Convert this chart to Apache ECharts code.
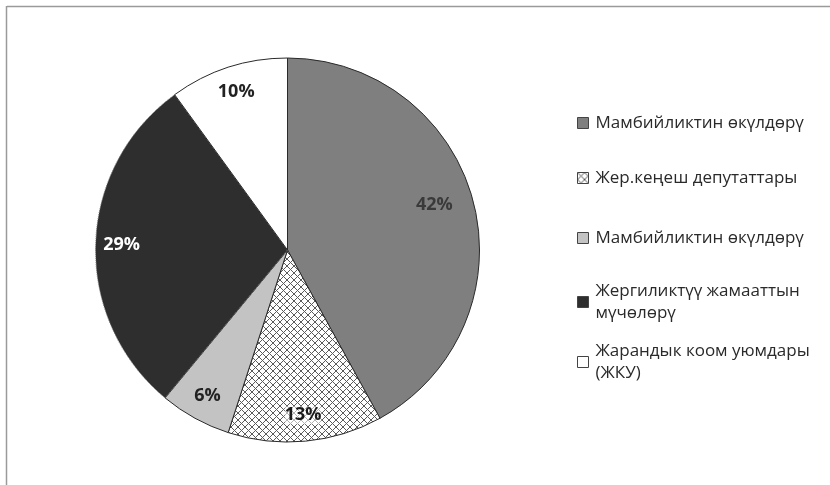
<!DOCTYPE html>
<html>
<head>
<meta charset="utf-8">
<script src="https://cdn.jsdelivr.net/npm/echarts@6/dist/echarts.min.js"></script>
<style>
html,body{margin:0;padding:0;background:#fff;}
#c{width:830px;height:485px;}
</style>
</head>
<body>
<div id="c"></div>
<script>
// ---- data ----
const categories = [
  'Мамбийликтин өкүлдөрү',
  'Жер.кеңеш депутаттары',
  'Мамбийликтин өкүлдөрү',
  'Жергиликтүү жамааттын\nмүчөлөрү',
  'Жарандык коом уюмдары\n(ЖКУ)'
];
const values = [42, 13, 6, 29, 10];

// ---- styles ----
const pat = document.createElement('canvas');
pat.width = 7; pat.height = 7;
const pc = pat.getContext('2d');
pc.fillStyle = '#ffffff'; pc.fillRect(0, 0, 7, 7);
pc.strokeStyle = '#5a5a5a'; pc.lineWidth = 1;
pc.beginPath();
pc.moveTo(0, 0); pc.lineTo(7, 7);
pc.moveTo(7, 0); pc.lineTo(0, 7);
pc.stroke();

const fills = ['#7f7f7f', {image: pat, repeat: 'repeat'}, '#c3c3c3', '#2e2e2e', '#ffffff'];
const labelColors = ['#3a3a3a', '#1a1a1a', '#222', '#ffffff', '#222'];
const keys = categories.map((c, i) => 'k' + i);

const pieData = values.map((v, i) => ({
  name: keys[i],
  value: v,
  itemStyle: {
    color: fills[i],
    borderColor: i === 3 ? '#777' : '#2a2a2a',
    borderWidth: 1,
    borderType: i === 3 ? 'dotted' : 'solid'
  }
}));

const labelData = values.map((v, i) => ({
  name: keys[i],
  value: v,
  label: {
    color: labelColors[i],
    backgroundColor: i === 1 ? 'rgba(255,255,255,0.55)' : 'transparent',
    offset: i === 0 ? [-14, -4] : [0, 0]
  }
}));

const centers = [123, 178, 238, 302, 362];
const LH = 22;
const legends = categories.map((c, i) => {
  const multi = c.indexOf('\n') >= 0;
  return {
    orient: 'vertical',
    left: 577,
    top: multi ? centers[i] - LH * 1.5 : centers[i] - LH / 2,
    padding: 0,
    itemWidth: 11,
    itemHeight: 11,
    itemGap: 0,
    icon: 'rect',
    selectedMode: false,
    data: [keys[i]],
    formatter: () => categories[i],
    itemStyle: {borderColor: '#444', borderWidth: 1},
    textStyle: {
      fontFamily: 'Open Sans',
      fontSize: 17,
      color: '#2a2a2a',
      lineHeight: LH,
      padding: multi ? [LH, 0, 0, 2] : [0, 0, 0, 2]
    }
  };
});

const chart = echarts.init(document.getElementById('c'), null, {renderer: 'canvas'});
chart.setOption({
  backgroundColor: '#ffffff',
  animation: false,
  legend: legends,
  graphic: [
    {type: 'line', shape: {x1: 7, y1: 6.5, x2: 830, y2: 6.5}, style: {stroke: '#9a9a9a', lineWidth: 1.5}},
    {type: 'line', shape: {x1: 6.5, y1: 6, x2: 6.5, y2: 485}, style: {stroke: '#9a9a9a', lineWidth: 1.5}}
  ],
  series: [
    {
      type: 'pie',
      center: [287.5, 250],
      radius: [0, 192],
      startAngle: 90,
      clockwise: true,
      silent: true,
      label: {show: false},
      labelLine: {show: false},
      data: pieData
    },
    {
      type: 'pie',
      center: [287.5, 250],
      radius: [130, 196],
      startAngle: 90,
      clockwise: true,
      silent: true,
      legendHoverLink: false,
      itemStyle: {color: 'rgba(0,0,0,0)', borderWidth: 0},
      label: {
        show: true,
        position: 'inside',
        formatter: '{c}%',
        fontFamily: 'Open Sans',
        fontWeight: 'bold',
        fontSize: 18
      },
      labelLine: {show: false},
      data: labelData
    }
  ]
});
</script>
</body>
</html>
